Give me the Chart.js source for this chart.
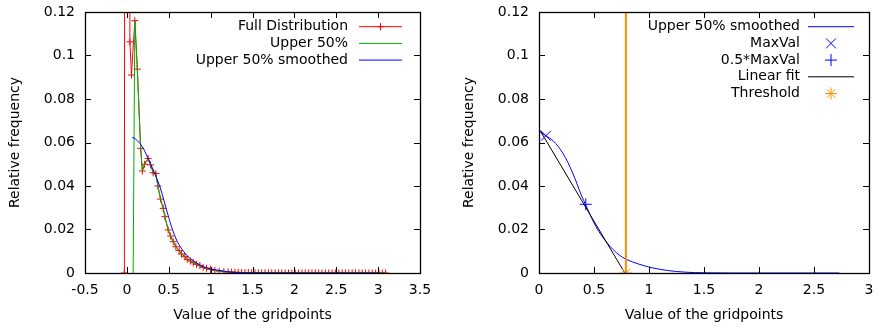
<!DOCTYPE html>
<html><head><meta charset="utf-8">
<script src="https://cdn.jsdelivr.net/npm/chart.js@4/dist/chart.umd.min.js"></script>
<style>
html,body{margin:0;padding:0;background:#fff;overflow:hidden;width:877px;height:329px;}
#l{position:absolute;left:0;top:0;width:438px;height:329px;}
#r{position:absolute;left:438px;top:0;width:439px;height:329px;}
</style></head><body>
<canvas id="l" width="438" height="329"></canvas>
<canvas id="r" width="439" height="329"></canvas>
<script>
// ---------- data ----------
const fullX = [-0.03, 0.003, 0.036, 0.055, 0.095, 0.125, 0.164, 0.185, 0.211, 0.254, 0.283, 0.314, 0.346, 0.37, 0.402, 0.434, 0.454, 0.493, 0.522, 0.553, 0.585, 0.624, 0.653, 0.693, 0.72, 0.76, 0.792, 0.832, 0.872, 0.911, 0.951, 0.999, 1.051, 1.102, 1.158, 1.21,
  1.25, 1.29, 1.33, 1.37, 1.41, 1.45, 1.49, 1.53, 1.57, 1.61, 1.65, 1.69, 1.73, 1.77, 1.81, 1.85, 1.89, 1.93, 1.97, 2.01, 2.05, 2.09, 2.13, 2.17, 2.21, 2.25, 2.29, 2.33, 2.37, 2.41, 2.45, 2.49, 2.53, 2.57, 2.61, 2.65, 2.69, 2.73, 2.77, 2.81, 2.85, 2.89, 2.93, 2.97, 3.01, 3.05, 3.09];
const fullY = [0, 1.5, 0.1063, 0.091, 0.116, 0.0937, 0.0573, 0.0469, 0.050, 0.0527, 0.0497, 0.0461, 0.0457, 0.0400, 0.0340, 0.0297, 0.0259, 0.0198, 0.0170, 0.0144, 0.0121, 0.0103, 0.0087, 0.0075, 0.0063, 0.0055, 0.0047, 0.0040, 0.0034, 0.0026, 0.0022, 0.0017, 0.0012, 0.0009, 0.0006, 0.0005,
  0.0004, 0.0003, 0.0003, 0.0002, 0.0002, 0.0002, 0.0001, 0.0001, 0.0001, 0.0001, 0.0001, 0.00005, 0.00005, 0.00005, 0.00005, 0, 0, 0, 0, 0, 0, 0, 0, 0, 0, 0, 0, 0, 0, 0, 0, 0, 0, 0, 0, 0, 0, 0, 0, 0, 0, 0, 0, 0, 0, 0, 0];
const upperStartX = [0.075];
const upperStartY = [0];
const upperFrom = 4; // Upper 50% = points of the full distribution from this index on
const smoothLX = [0.064, 0.1, 0.155, 0.2, 0.235, 0.314, 0.394, 0.474, 0.533, 0.593, 0.65, 0.712, 0.8, 0.872, 0.95, 1.071, 1.17, 1.27, 1.4, 1.6, 2.0, 2.5, 3.0];
const smoothLY = [0.0624, 0.0617, 0.0596, 0.0570, 0.0543, 0.0474, 0.0397, 0.0290, 0.0213, 0.0152, 0.0114, 0.0083, 0.0055, 0.0037, 0.0024, 0.0014, 0.0008, 0.0003, 0.0001, 0.00003, 0, 0, 0];

const smoothRX = [0.009, 0.063, 0.128, 0.218, 0.308, 0.384, 0.429, 0.518, 0.623, 0.728, 0.793, 0.907, 1.027, 1.177, 1.327, 1.5, 2.0, 2.73];
const smoothRY = [0.0650, 0.0631, 0.0608, 0.0550, 0.0458, 0.0359, 0.0308, 0.0213, 0.0136, 0.0083, 0.0063, 0.0041, 0.0024, 0.0011, 0.0004, 0.0001, 0, 0];
const maxVal = [0.063, 0.0631];
const halfMaxVal = [0.425, 0.0316];
const fitX = [0.01, 0.78];
const fitY = [0.0655, 0];
const thresholdX = 0.79;

const leftLabels = ['Full Distribution', 'Upper 50%', 'Upper 50% smoothed'];
const rightLabels = ['Upper 50% smoothed', 'MaxVal', '0.5*MaxVal', 'Linear fit', 'Threshold'];
const xTitle = 'Value of the gridpoints';
const yTitle = 'Relative frequency';

// ---------- helpers ----------
const pts = (xs, ys) => xs.map((x, i) => ({x, y: ys[i]}));
const FONT = '"DejaVu Sans", "Liberation Sans", sans-serif';
Chart.defaults.font.family = FONT;
Chart.defaults.font.size = 14;
Chart.defaults.color = '#000';
const fmt = v => String(Math.round(v * 1000) / 1000);

const frame = {
  id: 'frame',
  afterDatasetsDraw(chart) {
    const {ctx, chartArea: a, scales: {x, y}} = chart;
    ctx.save();
    ctx.strokeStyle = '#000';
    ctx.lineWidth = 1;
    ctx.beginPath();
    const L = 6;
    x.ticks.forEach(t => {
      const p = Math.round(x.getPixelForValue(t.value)) + 0.5;
      ctx.moveTo(p, a.bottom); ctx.lineTo(p, a.bottom - L);
      ctx.moveTo(p, a.top); ctx.lineTo(p, a.top + L);
    });
    y.ticks.forEach(t => {
      const p = Math.round(y.getPixelForValue(t.value)) + 0.5;
      ctx.moveTo(a.left, p); ctx.lineTo(a.left + L, p);
      ctx.moveTo(a.right, p); ctx.lineTo(a.right - L, p);
    });
    ctx.stroke();
    ctx.lineWidth = 1.3;
    ctx.strokeRect(Math.round(a.left) + 0.5, Math.round(a.top) + 0.5, Math.round(a.right - a.left), Math.round(a.bottom - a.top));
    // axis titles
    ctx.fillStyle = '#000';
    ctx.font = '14px ' + FONT;
    ctx.textAlign = 'center';
    ctx.textBaseline = 'middle';
    ctx.fillText(xTitle, (a.left + a.right) / 2, a.bottom + 42);
    ctx.save();
    ctx.translate(a.left - 70, (a.top + a.bottom) / 2);
    ctx.rotate(-Math.PI / 2);
    ctx.fillText(yTitle, 0, 0);
    ctx.restore();
    ctx.restore();
  }
};

const gpLegend = {
  id: 'gpLegend',
  afterDraw(chart, args, o) {
    if (!o || !o.items) return;
    const {ctx, chartArea: a} = chart;
    ctx.save();
    ctx.font = '14px ' + FONT;
    ctx.textAlign = 'right';
    ctx.textBaseline = 'middle';
    o.items.forEach((it, i) => {
      const ds = chart.data.datasets[it.ds];
      const y = a.top + o.top + i * o.dy;
      ctx.fillStyle = '#000';
      ctx.fillText(ds.label, a.right + o.textDx, y);
      const x0 = a.right + o.s0, x1 = a.right + o.s1;
      if (it.line) {
        ctx.strokeStyle = ds.borderColor; ctx.lineWidth = ds.borderWidth || 1;
        ctx.beginPath(); ctx.moveTo(x0, y); ctx.lineTo(x1, y); ctx.stroke();
      }
      if (it.marker) {
        ctx.strokeStyle = ds.pointBorderColor || ds.borderColor; ctx.lineWidth = 1;
        Chart.helpers.drawPoint(ctx, {pointStyle: ds.pointStyle, radius: ds.pointRadius, borderWidth: 1, rotation: 0}, (x0 + x1) / 2, y);
      }
    });
    ctx.restore();
  }
};

function fixAxis(size, horizontal) {
  return s => {
    if (horizontal) s.height = size; else s.width = size;
    s.paddingTop = 0; s.paddingBottom = 0; s.paddingLeft = 0; s.paddingRight = 0;
  };
}

function baseOptions(xmin, xmax, padRight, legend) {
  return {
    responsive: false,
    animation: false,
    events: [],
    layout: {padding: {left: 0, right: padRight, top: 12, bottom: 0}},
    plugins: {legend: {display: false}, tooltip: {enabled: false}, gpLegend: legend},
    scales: {
      x: {type: 'linear', min: xmin, max: xmax,
          grid: {display: false, drawTicks: false}, border: {display: false},
          ticks: {stepSize: 0.5, callback: fmt, padding: 9, maxRotation: 0, autoSkip: false, font: {size: 14}},
          afterFit: fixAxis(56, true)},
      y: {type: 'linear', min: 0, max: 0.12,
          grid: {display: false, drawTicks: false}, border: {display: false},
          ticks: {stepSize: 0.02, callback: fmt, padding: 10, autoSkip: false, font: {size: 14}},
          afterFit: fixAxis(85 + (xmin === 0 ? 16 : 0), false)}
    }
  };
}

// ---------- left chart ----------
new Chart(document.getElementById('l'), {
  type: 'scatter',
  data: {datasets: [
    {label: leftLabels[0], data: pts(fullX, fullY), showLine: true, borderColor: '#ff0000', borderWidth: 1,
     pointStyle: 'cross', pointRadius: 3.5, pointBorderColor: '#ff0000', pointBorderWidth: 1, order: 3},
    {label: leftLabels[1], data: pts(upperStartX.concat(fullX.slice(upperFrom)), upperStartY.concat(fullY.slice(upperFrom))),
     showLine: true, borderColor: '#00b000', borderWidth: 1, pointRadius: 0, order: 2},
    {label: leftLabels[2], data: pts(smoothLX, smoothLY), showLine: true, borderColor: '#0000ff', borderWidth: 1,
     pointRadius: 0, cubicInterpolationMode: 'monotone', order: 1}
  ]},
  options: baseOptions(-0.5, 3.5, 18, {top: 14.7, dy: 16.7, textDx: -72, s0: -61, s1: -18,
    items: [{ds: 0, line: true, marker: true}, {ds: 1, line: true}, {ds: 2, line: true}]}),
  plugins: [frame, gpLegend]
});

// ---------- right chart ----------
new Chart(document.getElementById('r'), {
  type: 'scatter',
  data: {datasets: [
    {label: rightLabels[0], data: pts(smoothRX, smoothRY), showLine: true, borderColor: '#0000ff', borderWidth: 1,
     pointRadius: 0, cubicInterpolationMode: 'monotone', order: 5},
    {label: rightLabels[1], data: [{x: maxVal[0], y: maxVal[1]}], showLine: false, borderColor: '#0000ff',
     pointStyle: 'crossRot', pointRadius: 7, pointBorderColor: '#0000ff', pointBorderWidth: 1, order: 2},
    {label: rightLabels[2], data: [{x: halfMaxVal[0], y: halfMaxVal[1]}], showLine: false, borderColor: '#0000ff',
     pointStyle: 'cross', pointRadius: 6, pointBorderColor: '#0000ff', pointBorderWidth: 1, order: 2},
    {label: rightLabels[3], data: pts(fitX, fitY), showLine: true, borderColor: '#000000', borderWidth: 1, pointRadius: 0, order: 4},
    {label: rightLabels[4], data: [{x: thresholdX, y: 0}], showLine: false, borderColor: '#ff8c00',
     pointStyle: 'star', pointRadius: 6, pointBorderColor: '#ff8c00', pointBorderWidth: 1, order: 1},
    {label: '', data: [{x: thresholdX, y: 0}, {x: thresholdX, y: 0.12}], showLine: true, borderColor: '#ff8c00', borderWidth: 2, pointRadius: 0, order: 3}
  ]},
  options: baseOptions(0, 3, 4, {top: 14.7, dy: 16.7, textDx: -69, s0: -61, s1: -15,
    items: [{ds: 0, line: true}, {ds: 1, marker: true}, {ds: 2, marker: true}, {ds: 3, line: true}, {ds: 4, marker: true}]}),
  plugins: [frame, gpLegend]
});
</script>
</body></html>
